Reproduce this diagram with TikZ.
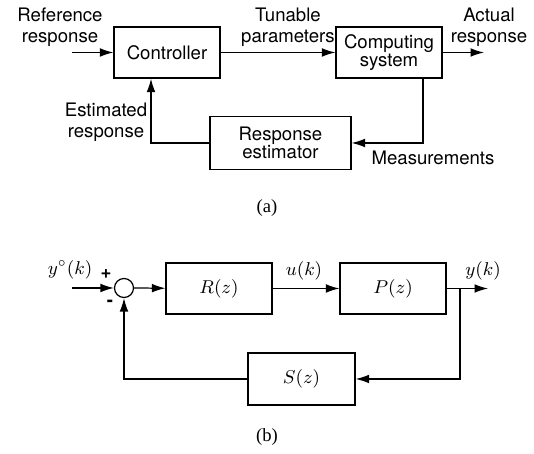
\documentclass[tikz,border=0pt]{standalone}
\usepackage{fontspec}
\setsansfont{TeX Gyre Heros}
\newfontfamily\capfont{Liberation Serif}
\usepackage{tikz}
\usetikzlibrary{arrows.meta}

\tikzset{
  block/.style={draw, line width=0.6pt, minimum width=51.3pt, minimum height=24.7pt, inner sep=0pt, font=\small\sffamily, align=center},
  sumnode/.style={draw, circle, line width=0.6pt, minimum size=9.2pt, inner sep=0pt},
  link/.style={-{Latex[length=6.5pt,width=4.2pt]}, line width=0.6pt},
  lbl/.style={font=\small\sffamily, align=center, inner sep=0pt},
  mlbl/.style={font=\small, inner sep=0pt}
}

\begin{document}
\begin{tikzpicture}[x=0.484pt,y=0.484pt]
\useasboundingbox (0,0) rectangle (534,454);
% (a)
\node[block] (ctrl) at (167,401.5) {Controller};
\node[block] (comp) at (389,401.5) {Computing\\[-2pt]system};
\node[block, minimum width=68.2pt, minimum height=25.7pt] (est) at (280.5,311) {Response\\[-2pt]estimator};
\coordinate (refin) at (72,401.5);
\coordinate (actout) at (484,401.5);
\coordinate (meas) at (423,311);
\coordinate (fbtop) at (151,311);
\node[lbl] (reflbl) at (60,426.5) {Reference\\[-1pt]response};
\node[lbl] (tunlbl) at (288,426.5) {Tunable\\[-1pt]parameters};
\node[lbl] (actlbl) at (489,426.5) {Actual\\[-1pt]response};
\node[lbl] (estlbl) at (106,331.5) {Estimated\\[-1pt]response};
\node[lbl] (measlbl) at (433,296) {Measurements};
\draw[link] (refin) -- (ctrl);
\draw[link] (ctrl) -- (comp);
\draw[link] (comp) -- (actout);
\draw[link] (comp.south -| meas) -- (meas) -- (est.east);
\draw[link] (est.west) -- (fbtop) -- (fbtop |- ctrl.south);
\node[font=\small\capfont] (capa) at (267,246) {(a)};
% (b)
\node[sumnode] (sum) at (124,166) {};
\node[block, font=\small] (R) at (219,165.5) {$R(z)$};
\node[block, font=\small] (P) at (393,165.5) {$P(z)$};
\node[block, font=\small, minimum width=51.8pt, minimum height=25.2pt] (S) at (301.5,75) {$S(z)$};
\coordinate (yin) at (72,166);
\coordinate (yout) at (488,165.5);
\coordinate (branch) at (460,165.5);
\node[mlbl] (yreflbl) at (70,184) {$y^\circ(k)$};
\node[lbl, font=\small\sffamily\bfseries] (plus) at (106,180) {+};
\node[lbl, font=\small\sffamily\bfseries] (minus) at (110,151) {-};
\node[mlbl] (ulbl) at (304,183) {$u(k)$};
\node[mlbl] (ylbl) at (483,183) {$y(k)$};
\draw[link] (yin) -- (sum);
\draw[link] (sum) -- (R);
\draw[link] (R) -- (P);
\draw[link] (P) -- (yout);
\draw[link] (branch) |- (S.east);
\draw[link] (S.west) -| (sum.south);
\node[font=\small\capfont] (capb) at (267,17) {(b)};
\end{tikzpicture}
\end{document}
